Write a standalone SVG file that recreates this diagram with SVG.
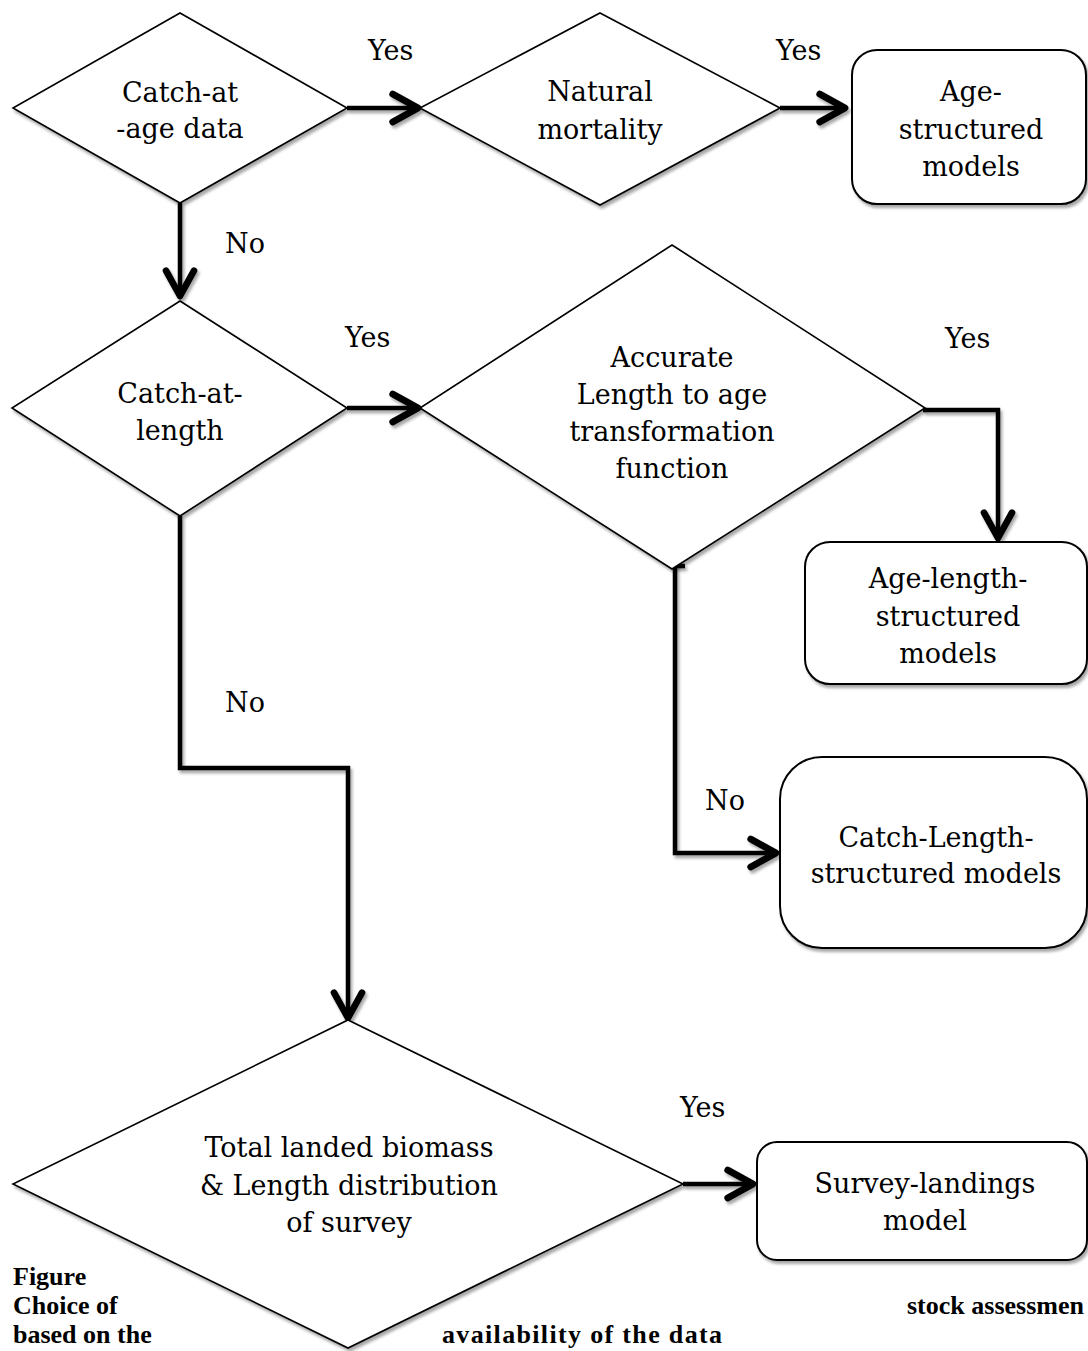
<svg xmlns="http://www.w3.org/2000/svg" width="1088" height="1351" viewBox="0 0 1088 1351">
<defs>
<style>
.shape{fill:#fff;stroke:#000;stroke-width:1.6;filter:url(#sh)}
.box{fill:#fff;stroke:#000;stroke-width:2;filter:url(#sh)}
.t{font-family:"DejaVu Serif","Liberation Serif",serif;font-size:27px;fill:#000;text-anchor:middle}
.lbl{font-family:"DejaVu Serif","Liberation Serif",serif;font-size:27px;fill:#000}
.cap{font-family:"Liberation Serif","Times New Roman",serif;font-size:26px;font-weight:bold;fill:#000}
.conn{fill:none;stroke:#000;stroke-width:4.5;stroke-linejoin:miter;marker-end:url(#ah);filter:url(#sh)}
</style>
<filter id="sh" filterUnits="userSpaceOnUse" x="0" y="0" width="1088" height="1351">
<feDropShadow dx="2" dy="3" stdDeviation="1.5" flood-color="#000" flood-opacity="0.35"/>
</filter>
<marker id="ah" markerUnits="userSpaceOnUse" markerWidth="40" markerHeight="40" viewBox="-25 -15 30 30" refX="0" refY="0" orient="auto">
<path d="M-19,-10.5 L0,0 L-19,10.5" fill="none" stroke="#000" stroke-width="5" stroke-linecap="round" stroke-linejoin="round"/>
</marker>
</defs>
<rect width="1088" height="1351" fill="#fff"/>

<g id="connectors">
<path class="conn" d="M347,108 H418"/>
<path class="conn" d="M780,108 H845"/>
<path class="conn" d="M180,203 V296"/>
<path class="conn" d="M347,408 H418"/>
<path class="conn" d="M923,410 H998 V538"/>
<path class="conn" d="M685,566 H675 V853 H776"/>
<path class="conn" d="M180,516 V768 H348 V1018"/>
<path class="conn" d="M683,1184 H753"/>
</g>

<g id="labels">
<text class="lbl" x="368" y="60">Yes</text>
<text class="lbl" x="776" y="60">Yes</text>
<text class="lbl" x="225" y="253">No</text>
<text class="lbl" x="345" y="347">Yes</text>
<text class="lbl" x="945" y="348">Yes</text>
<text class="lbl" x="225" y="712">No</text>
<text class="lbl" x="705" y="810">No</text>
<text class="lbl" x="680" y="1117">Yes</text>
</g>

<g id="n-catch-age">
<polygon class="shape" points="180,13 347,108 180,203 13,108"/>
<text class="t" x="180" y="102">Catch-at</text>
<text class="t" x="180" y="138">-age data</text>
</g>

<g id="n-natural-mortality">
<polygon class="shape" points="600,13 780,108 600,205 420,108"/>
<text class="t" x="600" y="101">Natural</text>
<text class="t" x="600" y="139">mortality</text>
</g>

<g id="n-age-structured">
<rect class="box" x="852" y="50" width="234" height="154" rx="25" ry="25"/>
<text class="t" x="971" y="101">Age-</text>
<text class="t" x="971" y="139">structured</text>
<text class="t" x="971" y="176">models</text>
</g>

<g id="n-catch-length">
<polygon class="shape" points="180,301 347,408 180,516 12,408"/>
<text class="t" x="180" y="403">Catch-at-</text>
<text class="t" x="180" y="440">length</text>
</g>

<g id="n-accurate">
<polygon class="shape" points="672,245 925,408 672,569 420,408"/>
<text class="t" x="672" y="367">Accurate</text>
<text class="t" x="672" y="404">Length to age</text>
<text class="t" x="672" y="441">transformation</text>
<text class="t" x="672" y="478">function</text>
</g>

<g id="n-age-length-structured">
<rect class="box" x="805" y="542" width="282" height="142" rx="25" ry="25"/>
<text class="t" x="948" y="588">Age-length-</text>
<text class="t" x="948" y="626">structured</text>
<text class="t" x="948" y="663">models</text>
</g>

<g id="n-catch-length-structured">
<rect class="box" x="780" y="757" width="307" height="191" rx="42" ry="42"/>
<text class="t" x="936" y="847">Catch-Length-</text>
<text class="t" x="936" y="883">structured models</text>
</g>

<g id="n-total-landed">
<polygon class="shape" points="348,1020 683,1184 348,1348 13,1184"/>
<text class="t" x="349" y="1157">Total landed biomass</text>
<text class="t" x="349" y="1195">&amp; Length distribution</text>
<text class="t" x="349" y="1232">of survey</text>
</g>

<g id="n-survey-landings">
<rect class="box" x="757" y="1142" width="330" height="118" rx="20" ry="20"/>
<text class="t" x="925" y="1193">Survey-landings</text>
<text class="t" x="925" y="1230">model</text>
</g>

<g id="caption">
<text class="cap" x="13" y="1285">Figure</text>
<text class="cap" x="13" y="1314">Choice of</text>
<text class="cap" x="13" y="1343">based on the</text>
<text class="cap" x="907" y="1314">stock assessmen</text>
<text class="cap" x="442" y="1343" textLength="280" lengthAdjust="spacing">availability of the data</text>
</g>
</svg>
